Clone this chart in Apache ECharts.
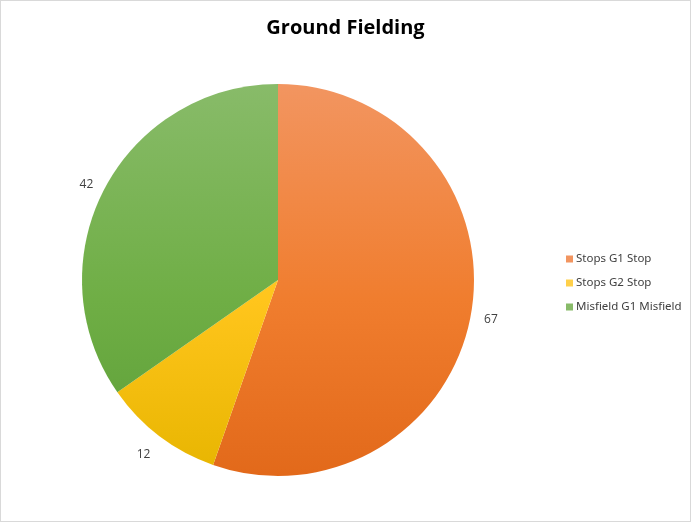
<!DOCTYPE html>
<html>
<head>
<meta charset="utf-8">
<script src="https://cdn.jsdelivr.net/npm/echarts@6/dist/echarts.min.js"></script>
<style>
html, body { margin: 0; padding: 0; background: #fff; }
#container { width: 689px; height: 520px; border: 1px solid #d9d9d9; }
</style>
</head>
<body>
<div id="container"></div>
<script>
var categories = ['Stops G1 Stop', 'Stops G2 Stop', 'Misfield G1 Misfield']
var values = [67, 12, 42]
// top / middle / bottom shade of each slice
var topColors = ['#f29560', '#ffd04a', '#88bb69']
var midColors = ['#f07d2e', '#ffc51c', '#6fae45']
var bottomColors = ['#e2691a', '#e7b500', '#5c9e37']
// nudge for the value labels
var labelOffsets = [[-2, 5], [2, 10], [3, 0]]

function grad(i){
	return new echarts.graphic.LinearGradient(0, 84, 0, 476, [
		{ offset: 0, color: topColors[i] },
		{ offset: 0.55, color: midColors[i] },
		{ offset: 1, color: bottomColors[i] }
	], true)
}

var dom = document.getElementById('container')
var myChart = echarts.init(dom)
var pieData = []
for (var i = 0; i < categories.length; i++){
	pieData.push({
		name: categories[i],
		value: values[i],
		itemStyle: { color: grad(i) },
		label: { offset: labelOffsets[i] }
	})
}

option = {
	animation: false,
	title: {
		text: 'Ground Fielding',
		left: 'center',
		top: 12,
		textStyle: { fontFamily: 'Open Sans', fontWeight: 'bold', fontSize: 20, color: '#000' }
	},
	legend: {
		orient: 'vertical',
		left: 560,
		top: 247,
		itemWidth: 7,
		itemHeight: 7,
		itemGap: 12,
		icon: 'rect',
		textStyle: { fontFamily: 'Noto Sans', fontSize: 11.5, color: '#404040', padding: [0, 0, 0, -2] },
		data: categories
	},
	series: [{
		type: 'pie',
		center: [277, 279],
		radius: 196,
		startAngle: 90,
		clockwise: true,
		label: {
			show: true,
			position: 'outside',
			formatter: '{c}',
			fontFamily: 'Open Sans',
			fontSize: 12,
			color: '#404040'
		},
		labelLine: { show: false, length: 10, length2: 0 },
		itemStyle: { borderWidth: 0 },
		emphasis: { disabled: true },
		data: pieData
	}]
}
myChart.setOption(option, true)
</script>
</body>
</html>
